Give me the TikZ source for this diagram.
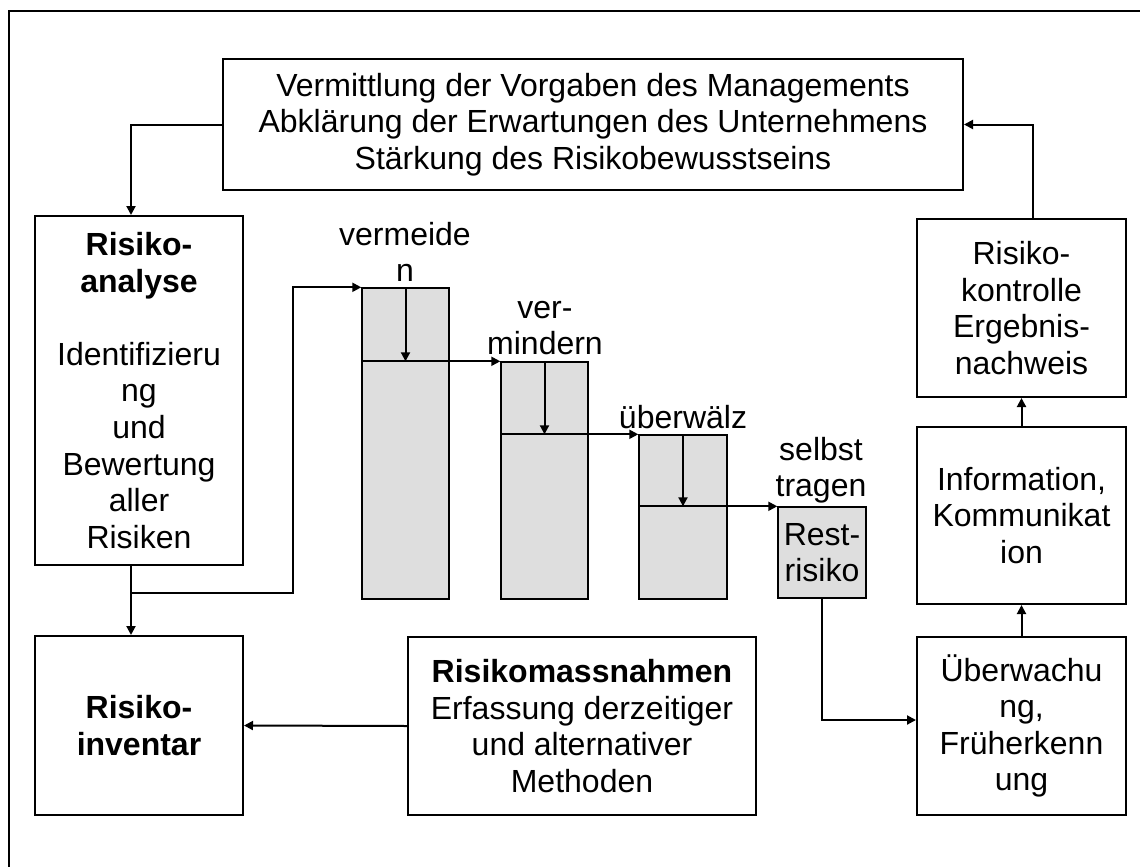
\documentclass[tikz,border=0pt]{standalone}
\usepackage{fontspec}
\setmainfont{Liberation Sans}
\usetikzlibrary{arrows.meta}
\tikzset{every node/.style={font=\fontsize{16}{18.3}\selectfont, align=center, inner sep=0pt},
  box/.style={draw, line width=1pt, fill=white},
  bar/.style={draw, line width=0.7pt, fill=black!13, minimum width=43.5pt},
  lbl/.style={anchor=south, text depth=0pt},
  conn/.style={line width=1pt, -{Triangle[length=4.5pt,width=4.5pt]}}}

\begin{document}
\begin{tikzpicture}[x=0.5pt, y=-0.5pt]
    \useasboundingbox (0,0) rectangle (1140,867);
    \draw[line width=0.75pt] (9,867) -- (9,11) -- (1140,11);
    % boxes
    \node[box, minimum width=370pt, minimum height=65.5pt] (vorgaben) at (593,124.5)
      {Vermittlung der Vorgaben des Managements\\Abklärung der Erwartungen des Unternehmens\\Stärkung des Risikobewusstseins};
    \node[box, minimum width=104pt, minimum height=174.5pt] (analyse) at (139,390.5)
      {\textbf{Risiko-}\\\textbf{analyse}\\[18.3pt]Identifizieru\\ng\\und\\Bewertung\\aller\\Risiken};
    \node[box, minimum width=104pt, minimum height=89.5pt] (inventar) at (139,725.5)
      {\textbf{Risiko-}\\\textbf{inventar}};
    \node[box, minimum width=174pt, minimum height=89pt] (massnahmen) at (582,726)
      {\textbf{Risikomassnahmen}\\Erfassung derzeitiger\\und alternativer\\Methoden};
    \node[box, minimum width=104.5pt, minimum height=89pt] (kontrolle) at (1021.5,308)
      {Risiko-\\kontrolle\\Ergebnis-\\nachweis};
    \node[box, minimum width=104.5pt, minimum height=88.5pt] (info) at (1021.5,515.5)
      {Information,\\Kommunikat\\ion};
    \node[box, minimum width=104.5pt, minimum height=89pt] (ueberwachung) at (1021.5,726)
      {Überwachu\\ng,\\Früherkenn\\ung};
    % bars
    \node[bar, minimum height=155.5pt] (bar1) at (405.5,443.5) {};
    \node[bar, minimum height=118.5pt] (bar2) at (544.5,480.5) {};
    \node[bar, minimum width=44pt, minimum height=82pt] (bar3) at (683,517) {};
    \node[bar, minimum width=44pt, minimum height=45.5pt] (rest) at (822,552.5) {Rest-\\risiko};
    \node[lbl] (vermeiden) at (405,282) {vermeide\\n};
    \node[lbl] (vermindern) at (545,355) {ver-\\mindern};
    \node[lbl] (ueberwaelzen) at (683,429) {überwälz};
    \node[lbl] (selbsttragen) at (821,497) {selbst\\tragen};
    % connectors
    \coordinate (split) at (131,593);
    \coordinate (turn) at (293,593);
    \draw[conn] (vorgaben.west) -| ([xshift=-4pt]analyse.north);
    \draw[conn] ([xshift=-4pt]analyse.south) -- ([xshift=-4pt]inventar.north);
    \draw[conn] (split) -- (turn) |- (bar1.north west);
    \draw[conn] (bar1.north) -- (bar1.north |- bar2.north);
    \draw[conn] (bar1.west |- bar2.north) -- (bar2.north west);
    \draw[conn] (bar2.north) -- (bar2.north |- bar3.north);
    \draw[conn] (bar2.west |- bar3.north) -- (bar3.north west);
    \draw[conn] (bar3.north) -- (bar3.north |- rest.north);
    \draw[conn] (bar3.west |- rest.north) -- (rest.north west);
    \draw[conn] (rest.south) |- ([yshift=3pt]ueberwachung.west);
    \draw[conn] (massnahmen.west) -- (inventar.east);
    \draw[conn] (ueberwachung.north) -- (info.south);
    \draw[conn] (info.north) -- (kontrolle.south);
    \draw[conn] ([xshift=5.5pt]kontrolle.north) |- (vorgaben.east);
  \end{tikzpicture}
\end{document}
